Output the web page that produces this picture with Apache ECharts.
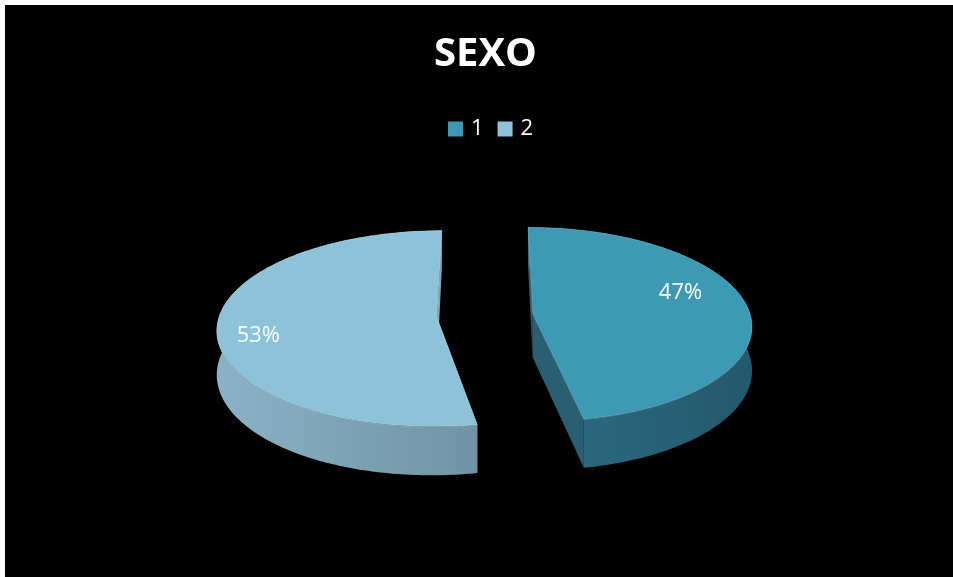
<!DOCTYPE html>
<html><head><meta charset="utf-8">
<script src="https://cdn.jsdelivr.net/npm/echarts@6/dist/echarts.min.js"></script>
<style>html,body{margin:0;background:#fff;} #c{position:absolute;left:5px;top:5px;width:948px;height:572px;background:#000;}</style>
</head><body><div id="c"></div>
<script>
var titleText = 'SEXO';
var categories = ['1', '2'];
var values = [47, 53];
var labels = ['47%', '53%'];

var topColors = ['#3E99B5', '#8CC3D9'];
var wallColors = [['#2C6D84', '#24586B'], ['#8AB2C5', '#7193A5']];
var cutColors = ['#285F73', '#82A6B9'];
var labelOffsets = [[-13, -15], [-14, 11]];

var total = values.reduce(function (a, b) { return a + b; }, 0);
var P = 0.1077, EXPLODE = 0.22, DEPTH = 0.45;

function makeRender(idx) {
  return function (params, api) {
    var v = api.value(0);
    var start = 0;
    for (var k = 0; k < idx; k++) start += values[k];
    var a1 = start / total * 2 * Math.PI, a2 = (start + v) / total * 2 * Math.PI;
    var mid = (a1 + a2) / 2;
    var ox = EXPLODE * Math.sin(mid), oz = EXPLODE * Math.cos(mid);
    function pt(r, th, down) {
      var X = ox + r * Math.sin(th), Z = oz + r * Math.cos(th);
      var den = 1 + P * Z;
      return api.coord([X / den, Z / den - (down ? DEPTH / den : 0)]);
    }
    var n = Math.max(8, Math.ceil((a2 - a1) / (Math.PI / 180)));
    var topArc = [], botArc = [];
    for (var i = 0; i <= n; i++) {
      var th = a1 + (a2 - a1) * i / n;
      topArc.push(pt(1, th, false));
      botArc.push(pt(1, th, true));
    }
    var children = [];
    [a1, a2].forEach(function (a) {
      children.push({
        type: 'polygon',
        shape: { points: [pt(0, a, false), pt(1, a, false), pt(1, a, true), pt(0, a, true)] },
        style: { fill: cutColors[idx] }
      });
    });
    children.push({
      type: 'polygon',
      shape: { points: topArc.concat(botArc.slice().reverse()) },
      style: {
        fill: new echarts.graphic.LinearGradient(0, 0, 1, 0, [
          { offset: 0, color: wallColors[idx][0] },
          { offset: 1, color: wallColors[idx][1] }
        ])
      }
    });
    children.push({
      type: 'polygon',
      shape: { points: [pt(0, a1, false)].concat(topArc) },
      style: { fill: topColors[idx], stroke: 'rgba(255,255,255,0.22)', lineWidth: 1 }
    });
    var lp = pt(0.75, mid, false);
    children.push({
      type: 'text',
      style: {
        text: labels[idx], x: lp[0] + labelOffsets[idx][0], y: lp[1] + labelOffsets[idx][1],
        fill: '#ffffff', fontSize: 22, fontFamily: 'Open Sans',
        align: 'center', verticalAlign: 'middle'
      }
    });
    return { type: 'group', children: children };
  };
}

var chart = echarts.init(document.getElementById('c'));
var series = categories.map(function (name, idx) {
  return {
    type: 'custom',
    name: name,
    coordinateSystem: 'cartesian2d',
    itemStyle: { color: topColors[idx] },
    data: [[values[idx], 0]],
    encode: { x: 0, y: 1 },
    renderItem: makeRender(idx),
    silent: true
  };
});
chart.setOption({
  backgroundColor: '#000000',
  animation: false,
  title: {
    text: titleText, left: 424, top: 25, padding: 5,
    textStyle: { color: '#ffffff', fontSize: 40, fontWeight: 'bold', fontFamily: 'Open Sans' }
  },
  legend: {
    data: categories, top: 108, left: 438, icon: 'rect', padding: 5,
    itemWidth: 15, itemHeight: 15, itemGap: 14,
    textStyle: { color: '#ffffff', fontSize: 22, fontFamily: 'Open Sans', padding: [0, 0, 0, 3] }
  },
  grid: { left: 262, width: 436, top: 214.6, height: 192.8 },
  xAxis: { type: 'value', min: -1, max: 1, show: false },
  yAxis: { type: 'value', min: -1, max: 1, show: false },
  series: series
});
</script>
</body></html>
